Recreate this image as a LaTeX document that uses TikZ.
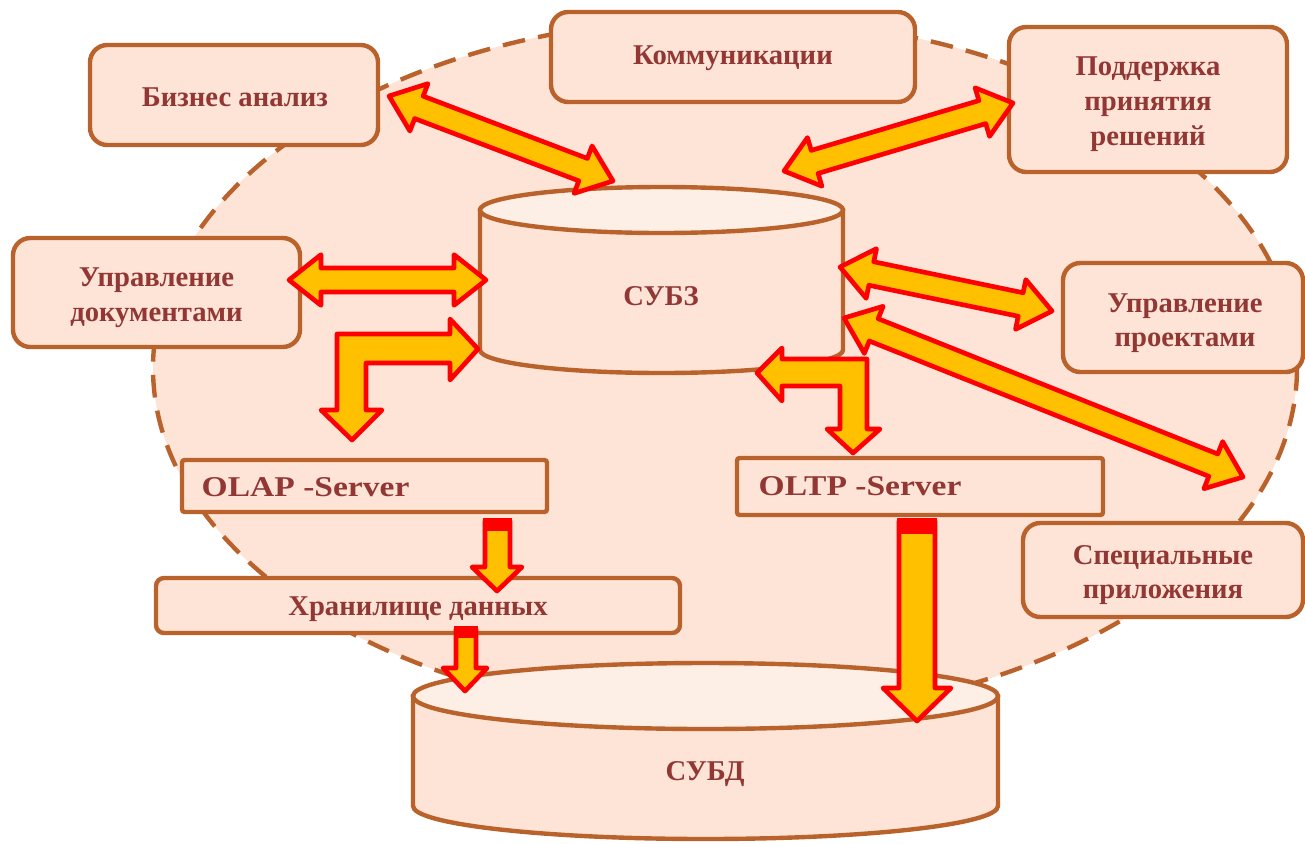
\documentclass[tikz,border=0pt]{standalone}
\usepackage{fontspec}
\setmainfont{Liberation Serif}
\usetikzlibrary{calc}
\definecolor{boxfill}{HTML}{FDE4D7}
\definecolor{topfill}{HTML}{FDEFE6}
\definecolor{brd}{HTML}{BA622C}
\definecolor{txt}{HTML}{923734}
\definecolor{arrfill}{HTML}{FFC000}
\definecolor{arrline}{HTML}{FF0000}
\def\ah{24pt}
\def\aH{19pt}
\def\aw{9pt}
\newcommand\dblarr[2]{%
\draw[blockarr]
 (#1)
 -- ($(#1)!\ah!(#2)!\aH!90:(#2)$)
 -- ($(#1)!\ah!(#2)!\aw!90:(#2)$)
 -- ($(#2)!\ah!(#1)!\aw!-90:(#1)$)
 -- ($(#2)!\ah!(#1)!\aH!-90:(#1)$)
 -- (#2)
 -- ($(#2)!\ah!(#1)!\aH!90:(#1)$)
 -- ($(#2)!\ah!(#1)!\aw!90:(#1)$)
 -- ($(#1)!\ah!(#2)!\aw!-90:(#2)$)
 -- ($(#1)!\ah!(#2)!\aH!-90:(#2)$)
 -- cycle;}
\begin{document}
\begin{tikzpicture}[x=0.75pt,y=-0.75pt,
  lbl/.style={font=\fontsize{21.5}{26}\selectfont\bfseries, text=txt, align=center},
  rbox/.style={draw=brd, line width=3.3pt, fill=boxfill, rounded corners=13pt, inner sep=0pt},
  sbox/.style={draw=brd, line width=3.3pt, fill=boxfill, rounded corners=2pt, inner sep=0pt},
  cylline/.style={draw=brd, line width=3.3pt},
  blockarr/.style={draw=arrline, fill=arrfill, line width=3.5pt, line join=round},
]
\useasboundingbox (0,0) rectangle (1305,843);

% background dashed ellipse
\draw[brd, line width=3.3pt, dash pattern=on 17pt off 10pt, fill=boxfill]
  (725,368) ellipse [x radius=572, y radius=350];

% outer boxes
\node[rbox, minimum width=216pt, minimum height=75pt] (biz) at (234,95) {};
\node[lbl] (biz-t) at (235,97) {Бизнес анализ};
\node[rbox, minimum width=273pt, minimum height=67.5pt] (comm) at (733,57) {};
\node[lbl] (comm-t) at (733,58) {Коммуникации};
\node[rbox, minimum width=208.5pt, minimum height=108.75pt] (dss) at (1148,99.5) {};
\node[lbl] (dss-t) at (1148,104) {Поддержка\\принятия\\решений};
\node[rbox, minimum width=215.25pt, minimum height=81.75pt] (doc) at (156.5,292.5) {};
\node[lbl] (doc-t) at (156.5,298) {Управление\\документами};
\node[rbox, minimum width=180pt, minimum height=81.75pt] (proj) at (1183,317.5) {};
\node[lbl] (proj-t) at (1185,323) {Управление\\проектами};
\node[rbox, minimum width=210pt, minimum height=70.5pt] (spec) at (1163,570) {};
\node[lbl] (spec-t) at (1163,575) {Специальные\\приложения};

% servers and storage
\node[sbox, minimum width=273.75pt, minimum height=39pt] (olap) at (364.5,486) {};
\node[lbl, anchor=west] (olap-t) at (197,487) {\scalebox{1.17}[1]{OLAP -Server}};
\node[sbox, minimum width=274.5pt, minimum height=42.75pt] (oltp) at (920,486.5) {};
\node[lbl, anchor=west] (oltp-t) at (754,486) {\scalebox{1.17}[1]{OLTP -Server}};
\node[rbox, rounded corners=6pt, minimum width=393pt, minimum height=41.25pt] (dw) at (418,605.5) {};
\node[lbl] (dw-t) at (418,609) {Хранилище данных};

% cylinder SUBZ
\path[cylline, fill=boxfill] (480,210) -- (480,350)
  arc[start angle=180, end angle=0, x radius=181.5, y radius=23] -- (843,210) -- cycle;
\draw[cylline, fill=topfill] (661.5,210) ellipse [x radius=181.5, y radius=23];
\node[lbl] (subz) at (661,296) {СУБЗ};

% cylinder SUBD
\path[cylline, fill=boxfill] (413,696) -- (413,806)
  arc[start angle=180, end angle=0, x radius=292.5, y radius=33] -- (998,696) -- cycle;
\draw[cylline, fill=topfill] (705.5,696) ellipse [x radius=292.5, y radius=33];
\node[lbl] (subd) at (705,774) {СУБД};

% arrow end points
\coordinate (a1s) at (389,96);
\coordinate (a1e) at (613,181);
\coordinate (a2s) at (1013,103);
\coordinate (a2e) at (784,171);
\coordinate (a3s) at (289,280);
\coordinate (a3e) at (486,280);
\coordinate (a4s) at (840,267);
\coordinate (a4e) at (1052,311);
\coordinate (a5s) at (844,318);
\coordinate (a5e) at (1243,477);

\dblarr{a1s}{a1e}
\dblarr{a2s}{a2e}
\dblarr{a3s}{a3e}
\dblarr{a4s}{a4e}
\dblarr{a5s}{a5e}

% elbow arrows
\draw[blockarr] (478,349) -- (450,319) -- (450,334) -- (337,334) -- (337,410) -- (321,410)
  -- (352,440) -- (382,410) -- (366,410) -- (366,363) -- (450,363) -- (450,380) -- cycle;
\draw[blockarr] (757,373) -- (782,348) -- (782,359) -- (867,359) -- (867,429) -- (880,429)
  -- (853,453) -- (827,429) -- (840,429) -- (840,386) -- (782,386) -- (782,401) -- cycle;

% down arrows
\draw[blockarr] (485,521) -- (510,521) -- (510,567) -- (522,567) -- (497,591) -- (472,567) -- (485,567) -- cycle;
\fill[arrline] (483,518) rectangle (512,531);
\draw[blockarr] (456,629) -- (476,629) -- (476,668) -- (487,668) -- (465,691) -- (443,668) -- (456,668) -- cycle;
\fill[arrline] (454,626) rectangle (478,638);
\draw[blockarr] (899,521) -- (935,521) -- (935,688) -- (951,688) -- (917,721) -- (883,688) -- (899,688) -- cycle;
\fill[arrline] (897,518) rectangle (937,534);
\end{tikzpicture}
\end{document}
